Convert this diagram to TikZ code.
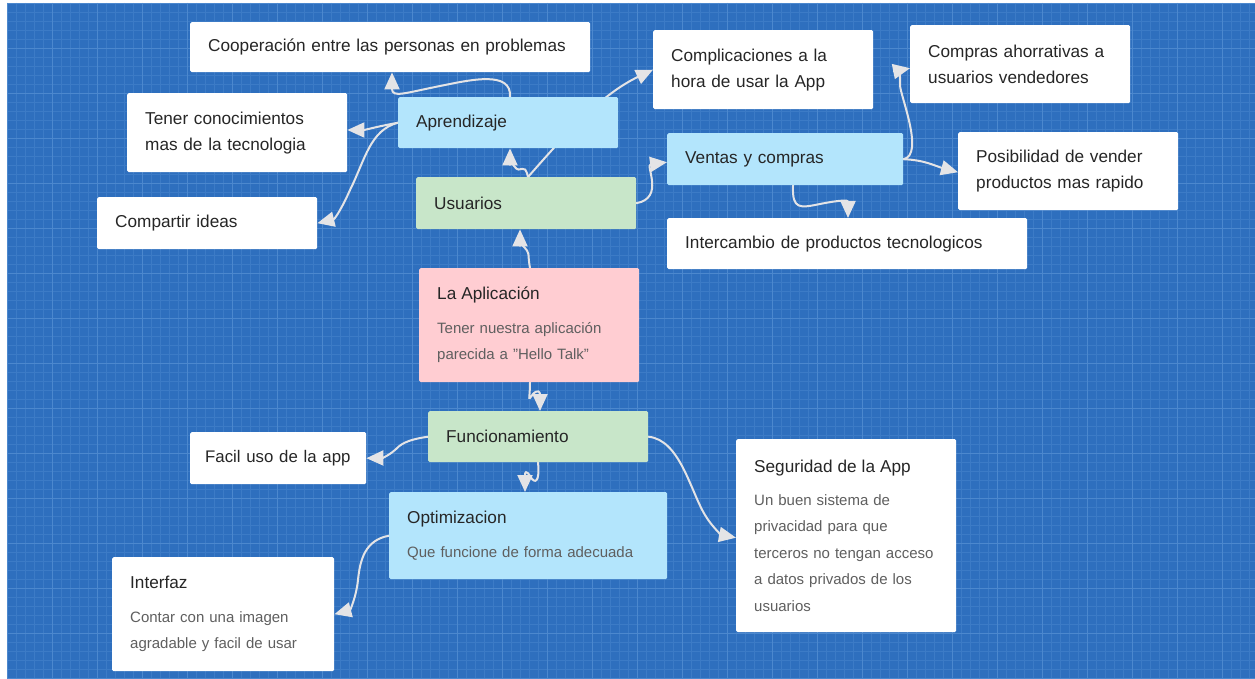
\documentclass[tikz,border=0pt]{standalone}
\usepackage{fontspec}
\setmainfont{Liberation Sans}
\usetikzlibrary{arrows.meta,calc}

\definecolor{board}{RGB}{46,111,190}
\definecolor{gridminor}{RGB}{60,123,198}
\definecolor{gridmajor}{RGB}{76,136,206}
\definecolor{ink}{RGB}{38,38,38}
\definecolor{soft}{RGB}{95,95,95}
\definecolor{skyfill}{RGB}{179,229,252}
\definecolor{mintfill}{RGB}{200,230,201}
\definecolor{rosefill}{RGB}{255,205,210}
\definecolor{wire}{RGB}{228,228,230}

\pgfdeclarelayer{board}
\pgfdeclarelayer{wires}
\pgfsetlayers{board,wires,main}

\newcommand{\headfont}{\fontsize{17.2}{26}\selectfont}
\newcommand{\bodyfont}{\fontsize{15}{26.5}\selectfont}

\tikzset{
  card/.style 2 args={fill=white, rounded corners=1.5pt, anchor=north west,
    inner xsep=18pt, inner ysep=0pt, align=left,
    text width=#1-36pt, minimum height=#2, text=ink,
    font=\headfont},
  sky/.style={fill=skyfill},
  mint/.style={fill=mintfill},
  rose/.style={fill=rosefill},
  noted/.style={font=\bodyfont, text=soft},
  link/.style={draw=wire, line width=2pt, line cap=round,
    -{Triangle[length=17pt,width=15pt]}},
}

\begin{document}
\begin{tikzpicture}[x=1pt,y=-1pt]
\useasboundingbox (0,0) rectangle (1255,679);

% blueprint board with its grid
\begin{pgfonlayer}{board}
  \fill[white] (0,0) rectangle (1255,679);
  \fill[board] (7,3) rectangle (1255,679);
  \begin{scope}
    \clip (7,3) rectangle (1255,679);
    \foreach \gx in {0,9,...,1260} \draw[gridminor, line width=0.5pt] (7+\gx,3) -- (7+\gx,679);
    \foreach \gy in {0,9,...,680} \draw[gridminor, line width=0.5pt] (7,3+\gy) -- (1255,3+\gy);
    \foreach \gx in {0,45,...,1260} \draw[gridmajor, line width=0.7pt] (7+\gx,3) -- (7+\gx,679);
    \foreach \gy in {0,45,...,680} \draw[gridmajor, line width=0.7pt] (7,3+\gy) -- (1255,3+\gy);
  \end{scope}
\end{pgfonlayer}

% cards
\node[card={400pt}{50pt}] (coop) at (190,22) {Cooperación entre las personas en problemas};
\node[card={220pt}{79pt}] (tener) at (127,93) {Tener conocimientos\\mas de la tecnologia};
\node[card={220pt}{52pt}] (comp) at (97,197) {Compartir ideas};
\node[card={220pt}{51pt}, sky] (apr) at (398,97) {Aprendizaje};
\node[card={220pt}{52pt}, mint] (usu) at (416,177) {Usuarios};
\node[card={220pt}{79pt}] (compl) at (653,30) {Complicaciones a la\\hora de usar la App};
\node[card={236pt}{52pt}, sky] (vent) at (667,133) {Ventas y compras};
\node[card={220pt}{78pt}] (ahor) at (910,25) {Compras ahorrativas a\\usuarios vendedores};
\node[card={220pt}{78pt}] (posib) at (958,132) {Posibilidad de vender\\productos mas rapido};
\node[card={360pt}{51pt}] (inter) at (667,218) {Intercambio de productos tecnologicos};
\node[card={220pt}{114pt}, rose, noted] (app) at (419,268)
  {{\headfont\color{ink}La Aplicación}\\[7pt]Tener nuestra aplicación\\parecida a "Hello Talk"};
\node[card={220pt}{51pt}, mint] (func) at (428,411) {Funcionamiento};
\node[card={176pt}{52pt}, inner xsep=15pt, text width=146pt] (facil) at (190,432)
  {\fontsize{16.8}{26}\selectfont Facil uso de la app};
\node[card={278pt}{87pt}, sky, noted] (opt) at (389,492)
  {{\headfont\color{ink}Optimizacion}\\[7pt]Que funcione de forma adecuada};
\node[card={222pt}{114pt}, noted] (interf) at (112,557)
  {{\headfont\color{ink}Interfaz}\\[7pt]Contar con una imagen\\agradable y facil de usar};
\node[card={220pt}{193pt}, noted] (seg) at (736,439)
  {{\headfont\color{ink}Seguridad de la App}\\[6pt]Un buen sistema de\\privacidad para que\\terceros no tengan acceso\\a datos privados de los\\usuarios};

% connectors, kept behind the cards
\begin{pgfonlayer}{wires}
  % Aprendizaje branch
  \draw[link] ($(apr.north west)+(112,0)$) .. controls +(2,-27) and (470,80) .. (440,86)
     .. controls (405,93) and (392,98) .. ($(coop.south west)+(202,0)$);
  \draw[link] (apr.west) .. controls (375,127) and (365,130) .. ($(tener.north east)+(0,37)$);
  \draw[link] (apr.west) .. controls (370,130) and (365,160) .. (350,190)
     .. controls (342,208) and (335,219) .. (comp.east);
  % Usuarios branch
  \draw[link] ($(usu.north west)+(112,0)$) .. controls (565,135) and (600,95) .. (compl.west);
  \draw[link] ($(usu.north west)+(112,0)$) .. controls (524,160) and (521,176) .. (514,166)
     .. controls (510,160) and (510,158) .. ($(apr.south west)+(112,0)$);
  \draw[link] ($(app.north west)+(111,0)$) .. controls (527,252) and (531,254) .. (523,246)
     .. controls (519,242) and (520,240) .. ($(usu.south west)+(104,0)$);
  \draw[link] (usu.east) .. controls (665,198) and (645,165) .. ($(vent.west)+(0,3)$);
  % Ventas y compras branch
  \draw[link] (vent.east) .. controls (925,155) and (900,95) .. (900,85)
     .. controls (900,74) and (901,70) .. ($(ahor.west)+(0,4)$);
  \draw[link] (vent.east) .. controls (925,160) and (935,166) .. ($(posib.west)+(0,1)$);
  \draw[link] ($(vent.south west)+(126,0)$) .. controls (792,210) and (800,208) .. (820,204)
     .. controls (840,200) and (848,200) .. ($(inter.north west)+(181,0)$);
  % Funcionamiento branch
  \draw[link] ($(app.south west)+(111,0)$) .. controls (530,400) and (527,402) .. (533,394)
     .. controls (538,389) and (540,392) .. ($(func.north west)+(112,0)$);
  \draw[link] (func.west) .. controls (405,440) and (400,445) .. (395,450)
     .. controls (388,456) and (382,458) .. (facil.east);
  \draw[link] ($(func.south west)+(110,0)$) .. controls (540,482) and (535,485) .. (530,476)
     .. controls (526,470) and (525,472) .. ($(opt.north west)+(136,0)$);
  \draw[link] (func.east) .. controls (680,440) and (690,490) .. (705,515)
     .. controls (712,527) and (722,535) .. ($(seg.west)+(0,2)$);
  \draw[link] (opt.west) .. controls (365,540) and (360,560) .. (358,580)
     .. controls (356,598) and (350,610) .. (interf.east);
\end{pgfonlayer}
\end{tikzpicture}
\end{document}
